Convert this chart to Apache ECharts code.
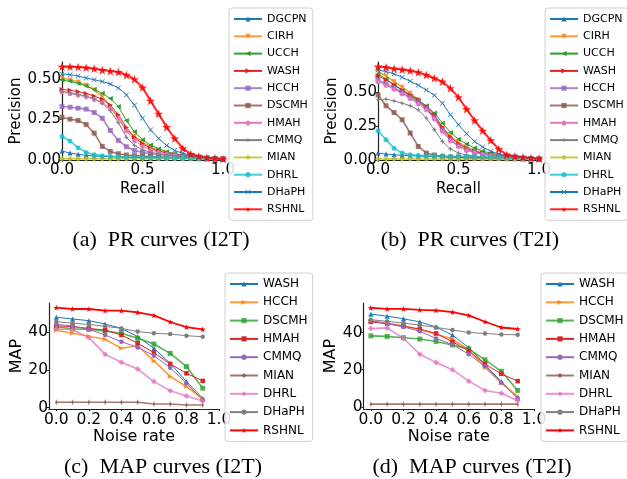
<!DOCTYPE html>
<html>
<head>
<meta charset="utf-8">
<script src="https://cdn.jsdelivr.net/npm/echarts@6/dist/echarts.min.js"></script>
<style>
  html, body { margin: 0; padding: 0; background: #fff; }
  #chart { width: 627px; height: 479px; }
</style>
</head>
<body>
<div id="chart"></div>
<script>
// x values
const recall = [0, 0.05, 0.1, 0.15, 0.2, 0.25, 0.3, 0.35, 0.4, 0.45, 0.5, 0.55, 0.6, 0.65, 0.7, 0.75, 0.8, 0.85, 0.9, 0.95, 1.0];
const noise = [0, 0.1, 0.2, 0.3, 0.4, 0.5, 0.6, 0.7, 0.8, 0.9];

// (a) PR curves I2T
const aDGCPN = [0.055, 0.043, 0.035, 0.029, 0.025, 0.022, 0.020, 0.018, 0.017, 0.016, 0.015, 0.014, 0.013, 0.012, 0.011, 0.010, 0.009, 0.008, 0.008, 0.007, 0.006];
const aCIRH = [0.506, 0.494, 0.482, 0.461, 0.432, 0.391, 0.330, 0.258, 0.186, 0.145, 0.109, 0.080, 0.060, 0.045, 0.035, 0.027, 0.021, 0.016, 0.012, 0.009, 0.006];
const aUCCH = [0.494, 0.486, 0.473, 0.457, 0.436, 0.412, 0.379, 0.330, 0.244, 0.174, 0.125, 0.092, 0.070, 0.051, 0.039, 0.031, 0.023, 0.018, 0.014, 0.010, 0.006];
const aWASH = [0.436, 0.430, 0.422, 0.410, 0.395, 0.375, 0.340, 0.280, 0.200, 0.140, 0.100, 0.072, 0.055, 0.042, 0.033, 0.026, 0.020, 0.015, 0.011, 0.008, 0.006];
const aHCCH = [0.330, 0.326, 0.320, 0.314, 0.293, 0.258, 0.182, 0.121, 0.082, 0.059, 0.047, 0.040, 0.034, 0.029, 0.025, 0.021, 0.017, 0.013, 0.010, 0.008, 0.006];
const aDSCMH = [0.264, 0.252, 0.244, 0.219, 0.166, 0.084, 0.053, 0.039, 0.031, 0.027, 0.024, 0.021, 0.019, 0.017, 0.015, 0.013, 0.011, 0.010, 0.008, 0.007, 0.006];
const aHMAH = [0.420, 0.410, 0.400, 0.390, 0.375, 0.355, 0.320, 0.260, 0.180, 0.120, 0.085, 0.062, 0.048, 0.038, 0.030, 0.024, 0.019, 0.014, 0.011, 0.008, 0.006];
const aCMMQ = [0.425, 0.415, 0.405, 0.395, 0.378, 0.350, 0.305, 0.230, 0.140, 0.090, 0.062, 0.048, 0.038, 0.031, 0.026, 0.021, 0.017, 0.013, 0.010, 0.008, 0.006];
const aMIAN = [0.008, 0.008, 0.008, 0.008, 0.008, 0.008, 0.008, 0.008, 0.008, 0.008, 0.008, 0.008, 0.008, 0.008, 0.008, 0.008, 0.008, 0.008, 0.008, 0.008, 0.008];
const aDHRL = [0.145, 0.117, 0.076, 0.047, 0.033, 0.027, 0.023, 0.021, 0.019, 0.018, 0.017, 0.016, 0.015, 0.014, 0.013, 0.012, 0.011, 0.010, 0.009, 0.008, 0.007];
const aDHaPH = [0.531, 0.527, 0.518, 0.506, 0.496, 0.484, 0.469, 0.445, 0.402, 0.338, 0.258, 0.186, 0.133, 0.090, 0.059, 0.041, 0.029, 0.020, 0.014, 0.010, 0.006];
const aRSHNL = [0.576, 0.576, 0.574, 0.570, 0.564, 0.555, 0.549, 0.543, 0.525, 0.498, 0.447, 0.365, 0.285, 0.203, 0.133, 0.072, 0.037, 0.023, 0.014, 0.010, 0.006];

// (b) PR curves T2I
const bDGCPN = [0.051, 0.044, 0.039, 0.034, 0.032, 0.029, 0.027, 0.025, 0.024, 0.022, 0.021, 0.020, 0.018, 0.017, 0.016, 0.015, 0.013, 0.012, 0.010, 0.009, 0.007];
const bCIRH = [0.652, 0.620, 0.578, 0.537, 0.493, 0.444, 0.382, 0.316, 0.235, 0.174, 0.130, 0.096, 0.071, 0.054, 0.042, 0.032, 0.025, 0.017, 0.012, 0.010, 0.007];
const bUCCH = [0.635, 0.598, 0.554, 0.512, 0.473, 0.439, 0.400, 0.346, 0.272, 0.203, 0.154, 0.118, 0.088, 0.066, 0.051, 0.039, 0.029, 0.022, 0.015, 0.010, 0.007];
const bWASH = [0.620, 0.591, 0.556, 0.517, 0.480, 0.444, 0.395, 0.333, 0.243, 0.169, 0.120, 0.086, 0.064, 0.049, 0.037, 0.029, 0.022, 0.017, 0.012, 0.010, 0.007];
const bHCCH = [0.591, 0.561, 0.532, 0.498, 0.463, 0.429, 0.382, 0.316, 0.223, 0.150, 0.105, 0.076, 0.056, 0.044, 0.034, 0.027, 0.022, 0.017, 0.012, 0.010, 0.007];
const bDSCMH = [0.480, 0.400, 0.350, 0.297, 0.199, 0.100, 0.051, 0.037, 0.027, 0.022, 0.020, 0.017, 0.015, 0.013, 0.012, 0.011, 0.010, 0.009, 0.008, 0.008, 0.007];
const bHMAH = [0.578, 0.551, 0.522, 0.488, 0.453, 0.414, 0.370, 0.304, 0.211, 0.142, 0.100, 0.071, 0.054, 0.042, 0.032, 0.025, 0.020, 0.015, 0.012, 0.010, 0.007];
const bCMMQ = [0.444, 0.449, 0.436, 0.419, 0.400, 0.370, 0.309, 0.223, 0.137, 0.081, 0.051, 0.037, 0.029, 0.022, 0.017, 0.015, 0.012, 0.010, 0.010, 0.008, 0.007];
const bMIAN = [0.007, 0.007, 0.007, 0.007, 0.007, 0.007, 0.007, 0.007, 0.007, 0.007, 0.007, 0.007, 0.007, 0.007, 0.007, 0.007, 0.007, 0.007, 0.007, 0.007, 0.007];
const bDHRL = [0.216, 0.150, 0.086, 0.051, 0.039, 0.034, 0.032, 0.029, 0.029, 0.027, 0.027, 0.026, 0.025, 0.024, 0.022, 0.020, 0.017, 0.015, 0.012, 0.010, 0.007];
const bDHaPH = [0.664, 0.652, 0.635, 0.610, 0.581, 0.551, 0.517, 0.478, 0.419, 0.333, 0.260, 0.194, 0.137, 0.096, 0.064, 0.044, 0.032, 0.025, 0.017, 0.012, 0.007];
const bRSHNL = [0.689, 0.684, 0.674, 0.667, 0.659, 0.647, 0.627, 0.603, 0.578, 0.529, 0.463, 0.375, 0.292, 0.216, 0.145, 0.081, 0.039, 0.027, 0.020, 0.015, 0.010];

// (c) MAP curves I2T
const cWASH = [48.0, 47.1, 46.2, 44.4, 42.1, 37.7, 31.5, 23.5, 13.8, 5.0];
const cHCCH = [41.1, 39.5, 37.9, 36.3, 31.5, 32.9, 24.8, 16.5, 11.2, 4.6];
const cDSCMH = [42.8, 41.9, 41.6, 40.7, 39.5, 36.8, 33.8, 28.8, 21.8, 10.3];
const cHMAH = [43.5, 43.0, 42.1, 41.2, 38.6, 34.2, 29.2, 23.2, 18.2, 14.2];
const cCMMQ = [44.2, 43.4, 41.6, 38.6, 35.0, 32.0, 27.6, 21.2, 12.9, 4.1];
const cMIAN = [2.8, 2.8, 2.8, 2.8, 2.8, 2.8, 1.9, 1.9, 1.4, 1.4];
const cDHRL = [41.8, 41.4, 37.2, 28.3, 24.1, 20.5, 13.8, 9.0, 6.2, 3.5];
const cDHaPH = [45.7, 44.8, 44.2, 43.2, 42.1, 40.4, 39.5, 39.1, 38.2, 37.7];
const cRSHNL = [53.1, 52.4, 52.4, 51.5, 51.5, 50.6, 49.0, 45.5, 42.8, 41.6];

// (d) MAP curves T2I
const dWASH = [49.9, 48.8, 47.4, 45.7, 43.0, 38.6, 31.9, 22.7, 13.5, 4.6];
const dHCCH = [46.0, 45.0, 43.5, 41.6, 39.1, 36.5, 30.6, 21.2, 12.9, 5.5];
const dDSCMH = [38.2, 37.9, 37.2, 36.5, 35.2, 33.3, 31.2, 25.3, 19.1, 8.8];
const dHMAH = [45.7, 44.8, 43.5, 41.8, 39.5, 35.0, 30.1, 23.0, 17.7, 13.8];
const dCMMQ = [46.4, 44.8, 43.0, 40.7, 36.8, 33.6, 28.3, 21.8, 12.9, 4.6];
const dMIAN = [1.4, 1.4, 1.4, 1.4, 1.4, 1.4, 1.4, 1.4, 1.4, 1.4];
const dDHRL = [42.1, 42.5, 36.8, 28.3, 23.9, 20.0, 13.8, 8.8, 7.3, 3.2];
const dDHaPH = [46.9, 46.0, 45.1, 43.9, 42.8, 41.4, 40.0, 39.5, 38.9, 38.8];
const dRSHNL = [53.3, 52.7, 52.7, 52.2, 51.9, 51.0, 49.2, 45.8, 42.7, 41.9];

// tick labels
const prXTicks = [0, 0.5, 1.0];
const prYTicks = [0, 0.25, 0.5];
const mapXTicks = [0, 0.2, 0.4, 0.6, 0.8, 1.0];
const mapYTicks = [0, 20, 40];

// marker shapes
const STAR = 'path://M0,-10L2.35,-3.24L9.51,-3.09L3.8,1.24L5.88,8.09L0,4L-5.88,8.09L-3.8,1.24L-9.51,-3.09L-2.35,-3.24Z';
const XMARK = 'path://M-5,-4L-4,-5L0,-1L4,-5L5,-4L1,0L5,4L4,5L0,1L-4,5L-5,4L-1,0Z';
const PENTA = 'path://M0,-10L9.51,-3.09L5.88,8.09L-5.88,8.09L-9.51,-3.09Z';
const SPARK = 'path://M0,-10L2.2,-2.2L10,0L2.2,2.2L0,10L-2.2,2.2L-10,0L-2.2,-2.2Z';
const THIN = 'path://M0,-10L4,0L0,10L-4,0Z';

const FONT = 'DejaVu Sans';

function line(name, tag, grid, xs, ys, color, symbol, size, opts) {
  opts = opts || {};
  return {
    name: name + '|' + tag,
    type: 'line',
    xAxisIndex: grid,
    yAxisIndex: grid,
    data: xs.map((x, i) => [x, ys[i]]),
    symbol: symbol,
    symbolSize: size,
    symbolRotate: opts.rotate || 0,
    symbolKeepAspect: true,
    showAllSymbol: true,
    clip: false,
    lineStyle: { color: color, width: opts.width || 1, opacity: opts.alpha || 1 },
    itemStyle: { color: color, opacity: opts.alpha || 1 },
    emphasis: { disabled: true },
    animation: false
  };
}

const tab = {
  blue: '#1f77b4', orange: '#ff7f0e', green: '#2ca02c', red: '#d62728', purple: '#9467bd',
  brown: '#8c564b', pink: '#e377c2', gray: '#7f7f7f', olive: '#bcbd22', cyan: '#17becf'
};
const thick = { width: 1.6, alpha: 0.8 };

const prA = [
  line('DGCPN', 'a', 0, recall, aDGCPN, tab.blue, 'triangle', 5),
  line('CIRH', 'a', 0, recall, aCIRH, tab.orange, 'triangle', 5, { rotate: 180, width: 1.6, alpha: 0.8 }),
  line('UCCH', 'a', 0, recall, aUCCH, tab.green, 'triangle', 5, { rotate: 90 }),
  line('WASH', 'a', 0, recall, aWASH, tab.red, 'triangle', 5, { rotate: -90 }),
  line('HCCH', 'a', 0, recall, aHCCH, tab.purple, 'rect', 5, thick),
  line('DSCMH', 'a', 0, recall, aDSCMH, tab.brown, 'rect', 5, thick),
  line('HMAH', 'a', 0, recall, aHMAH, tab.pink, PENTA, 5),
  line('CMMQ', 'a', 0, recall, aCMMQ, tab.gray, SPARK, 6),
  line('MIAN', 'a', 0, recall, aMIAN, tab.olive, 'diamond', 6, thick),
  line('DHRL', 'a', 0, recall, aDHRL, tab.cyan, 'circle', 5, thick),
  line('DHaPH', 'a', 0, recall, aDHaPH, tab.blue, XMARK, 5),
  line('RSHNL', 'a', 0, recall, aRSHNL, '#ff0000', STAR, 9, { width: 2, alpha: 0.85 })
];
const prB = [
  line('DGCPN', 'b', 1, recall, bDGCPN, tab.blue, 'triangle', 5),
  line('CIRH', 'b', 1, recall, bCIRH, tab.orange, 'triangle', 5, { rotate: 180, width: 1.6, alpha: 0.8 }),
  line('UCCH', 'b', 1, recall, bUCCH, tab.green, 'triangle', 5, { rotate: 90 }),
  line('WASH', 'b', 1, recall, bWASH, tab.red, 'triangle', 5, { rotate: -90 }),
  line('HCCH', 'b', 1, recall, bHCCH, tab.purple, 'rect', 5, thick),
  line('DSCMH', 'b', 1, recall, bDSCMH, tab.brown, 'rect', 5, thick),
  line('HMAH', 'b', 1, recall, bHMAH, tab.pink, PENTA, 5),
  line('CMMQ', 'b', 1, recall, bCMMQ, tab.gray, SPARK, 6),
  line('MIAN', 'b', 1, recall, bMIAN, tab.olive, 'diamond', 6, thick),
  line('DHRL', 'b', 1, recall, bDHRL, tab.cyan, 'circle', 5, thick),
  line('DHaPH', 'b', 1, recall, bDHaPH, tab.blue, XMARK, 5),
  line('RSHNL', 'b', 1, recall, bRSHNL, '#ff0000', STAR, 9, { width: 2, alpha: 0.85 })
];
const mapC = [
  line('WASH', 'c', 2, noise, cWASH, tab.blue, 'triangle', 5),
  line('HCCH', 'c', 2, noise, cHCCH, tab.orange, 'triangle', 5, { rotate: -90, width: 1.6, alpha: 0.8 }),
  line('DSCMH', 'c', 2, noise, cDSCMH, tab.green, 'rect', 5, thick),
  line('HMAH', 'c', 2, noise, cHMAH, tab.red, 'rect', 4.5),
  line('CMMQ', 'c', 2, noise, cCMMQ, tab.purple, 'circle', 4.5),
  line('MIAN', 'c', 2, noise, cMIAN, tab.brown, THIN, 6, thick),
  line('DHRL', 'c', 2, noise, cDHRL, tab.pink, 'diamond', 6, thick),
  line('DHaPH', 'c', 2, noise, cDHaPH, tab.gray, 'circle', 4.5),
  line('RSHNL', 'c', 2, noise, cRSHNL, '#ff0000', STAR, 6, { width: 1.8 })
];
const mapD = [
  line('WASH', 'd', 3, noise, dWASH, tab.blue, 'triangle', 5),
  line('HCCH', 'd', 3, noise, dHCCH, tab.orange, 'triangle', 5, { rotate: -90, width: 1.6, alpha: 0.8 }),
  line('DSCMH', 'd', 3, noise, dDSCMH, tab.green, 'rect', 5, thick),
  line('HMAH', 'd', 3, noise, dHMAH, tab.red, 'rect', 4.5),
  line('CMMQ', 'd', 3, noise, dCMMQ, tab.purple, 'circle', 4.5),
  line('MIAN', 'd', 3, noise, dMIAN, tab.brown, THIN, 6, thick),
  line('DHRL', 'd', 3, noise, dDHRL, tab.pink, 'diamond', 6, thick),
  line('DHaPH', 'd', 3, noise, dDHaPH, tab.gray, 'circle', 4.5),
  line('RSHNL', 'd', 3, noise, dRSHNL, '#ff0000', STAR, 6, { width: 1.8 })
];

function axis(grid, min, max, ticks, digits, name, nameGap, fontSize, nameSize, isY) {
  return {
    type: 'value',
    gridIndex: grid,
    min: min,
    max: max,
    name: name,
    nameLocation: 'middle',
    nameGap: nameGap,
    nameRotate: isY ? 90 : 0,
    nameTextStyle: { fontFamily: FONT, fontSize: nameSize, color: '#000' },
    axisLine: { show: true, onZero: false, lineStyle: { color: '#222', width: 1.2 } },
    axisTick: { show: true, length: 2, customValues: ticks, lineStyle: { color: '#222' } },
    axisLabel: {
      customValues: ticks,
      margin: isY ? 1 : 3,
      fontFamily: FONT,
      fontSize: fontSize,
      color: '#000',
      formatter: v => Number(v).toFixed(digits)
    },
    splitLine: { show: false }
  };
}

function legend(left, top, series, fontSize, lineH, gap) {
  return {
    orient: 'vertical',
    left: left,
    top: top,
    data: series.map(s => s.name),
    formatter: n => n.split('|')[0],
    itemWidth: 28,
    itemHeight: 6.5,
    itemGap: gap,
    padding: [4, 5, 4, 4],
    borderColor: '#d0d0d0',
    borderWidth: 1,
    borderRadius: 3,
    backgroundColor: 'rgba(255,255,255,0.85)',
    selectedMode: false,
    textStyle: { fontFamily: FONT, fontSize: fontSize, color: '#000', lineHeight: lineH }
  };
}

function caption(text, x, y) {
  return {
    type: 'text',
    x: x,
    y: y,
    style: {
      text: text,
      font: '22px "Liberation Serif"',
      fill: '#000',
      textAlign: 'center',
      textVerticalAlign: 'middle'
    }
  };
}

const chart = echarts.init(document.getElementById('chart'));
chart.setOption({
  animation: false,
  grid: [
    { left: 62, top: 62, width: 161, height: 98 },
    { left: 378, top: 62, width: 161, height: 98 },
    { left: 49, top: 303, width: 170, height: 106 },
    { left: 363.5, top: 303, width: 170.5, height: 106 }
  ],
  xAxis: [
    axis(0, 0, 1, prXTicks, 1, 'Recall', 22, 15, 15, false),
    axis(1, 0, 1, prXTicks, 1, 'Recall', 22, 15, 15, false),
    axis(2, -0.045, 1, mapXTicks, 1, 'Noise rate', 18, 15.5, 16, false),
    axis(3, -0.045, 1, mapXTicks, 1, 'Noise rate', 18, 15.5, 16, false)
  ],
  yAxis: [
    axis(0, 0, 0.605, prYTicks, 2, 'Precision', 31, 15, 15, true),
    axis(1, 0, 0.723, prYTicks, 2, 'Precision', 29, 15, 15, true),
    axis(2, -0.76, 55.6, mapYTicks, 0, 'MAP', 18, 15.5, 16, true),
    axis(3, -1.2, 55.9, mapYTicks, 0, 'MAP', 14, 15.5, 16, true)
  ],
  legend: [
    legend(229, 8, prA, 11, 14, 3.3),
    legend(545, 8, prB, 11, 14, 3.3),
    legend(225, 273, mapC, 12, 14, 4.3),
    legend(541, 273, mapD, 12, 14, 4.3)
  ],
  graphic: [
    caption('(a)  PR curves (I2T)', 161, 240),
    caption('(b)  PR curves (T2I)', 470, 240),
    caption('(c)  MAP curves (I2T)', 163, 467),
    caption('(d)  MAP curves (T2I)', 472, 467)
  ],
  series: prA.concat(prB, mapC, mapD)
});
</script>
</body>
</html>
